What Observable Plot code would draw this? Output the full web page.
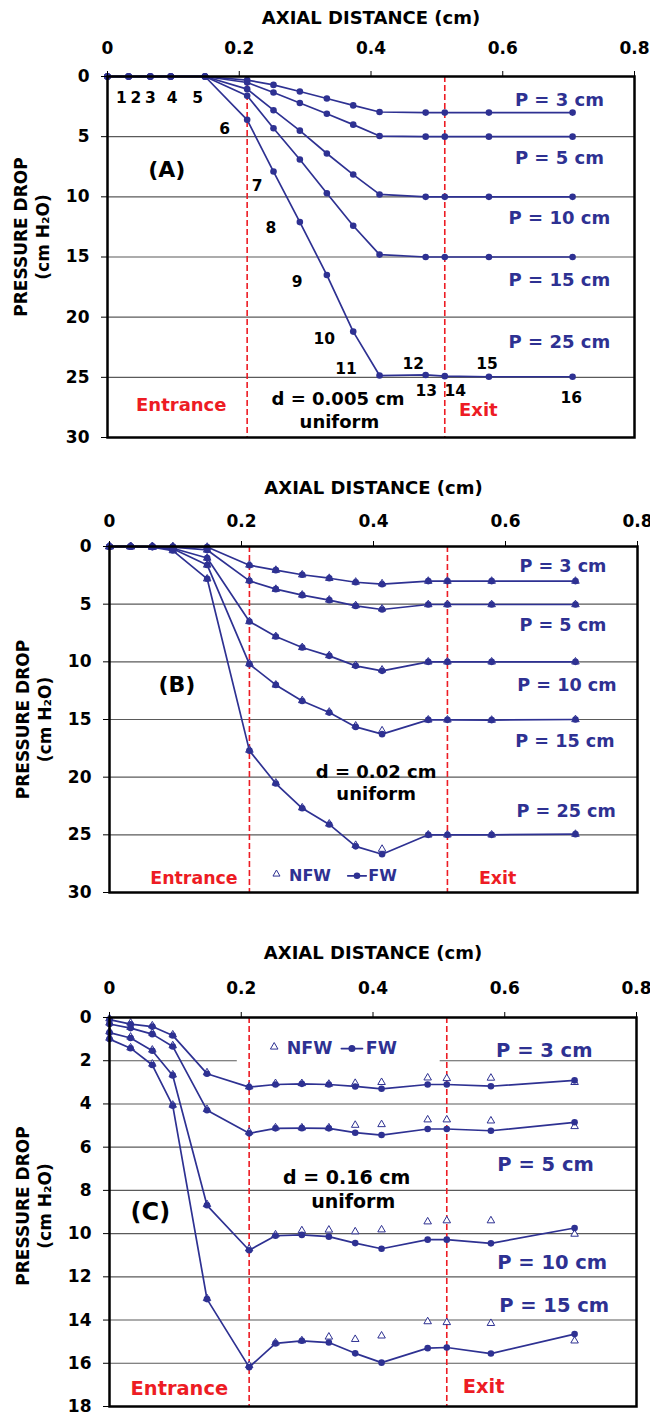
<!DOCTYPE html>
<html>
<head>
<meta charset="utf-8">
<script src="https://cdn.jsdelivr.net/npm/d3@7"></script>
<script src="https://cdn.jsdelivr.net/npm/@observablehq/plot@0.6"></script>
<style>
html,body{margin:0;padding:0;background:#fff;}
#chart{width:650px;}
#chart svg{display:block;}
</style>
</head>
<body>
<div id="chart"></div>
<script>
// ---------- shared ----------
const axialDistance = [0, 0.032, 0.065, 0.096, 0.148, 0.212, 0.252, 0.292, 0.333, 0.373, 0.413, 0.483, 0.512, 0.579, 0.706];
const xTicks = [0, 0.2, 0.4, 0.6, 0.8];
const entranceExit = [0.212, 0.512];

// ---------- panel A : d = 0.005 cm ----------
const seriesA = ["P = 3 cm", "P = 5 cm", "P = 10 cm", "P = 15 cm", "P = 25 cm"];
const fwA3  = [0, 0, 0, 0, 0, 0.3, 0.7, 1.25, 1.83, 2.4, 2.95, 3.0, 3.0, 3.0, 3.0];
const fwA5  = [0, 0, 0, 0, 0, 0.5, 1.33, 2.2, 3.1, 4.0, 4.95, 5.0, 5.0, 5.0, 5.0];
const fwA10 = [0, 0, 0, 0, 0, 1.05, 2.8, 4.5, 6.4, 8.15, 9.8, 10.0, 10.0, 10.0, 10.0];
const fwA15 = [0, 0, 0, 0, 0, 1.6, 4.3, 6.9, 9.7, 12.4, 14.8, 15.0, 15.0, 15.0, 15.0];
const fwA25 = [0, 0, 0, 0, 0, 3.6, 7.9, 12.1, 16.5, 21.2, 24.85, 24.8, 24.9, 24.95, 24.95];
const yTicksA = [0, 5, 10, 15, 20, 25, 30];
const pointNumbers = ["1","2","3","4","5","6","7","8","9","10","11","12","13","14","15","16"];
const pointNumberX = [0.021, 0.043, 0.065, 0.098, 0.137, 0.178, 0.227, 0.248, 0.288, 0.329, 0.362, 0.464, 0.484, 0.528, 0.576, 0.704];
const pointNumberY = [1.75, 1.75, 1.75, 1.75, 1.75, 4.4, 9.1, 12.6, 17.1, 21.8, 24.3, 23.9, 26.1, 26.1, 23.9, 26.7];

// ---------- panel B : d = 0.02 cm ----------
const seriesB = ["P = 3 cm", "P = 5 cm", "P = 10 cm", "P = 15 cm", "P = 25 cm"];
const fwB3  = [0, 0, 0, 0, 0.05, 1.62, 2.05, 2.45, 2.75, 3.1, 3.27, 3.0, 3.0, 3.0, 3.0];
const fwB5  = [0, 0, 0, 0.05, 0.3, 2.98, 3.7, 4.22, 4.65, 5.15, 5.46, 5.03, 5.03, 5.03, 5.03];
const fwB10 = [0, 0, 0, 0.15, 1.0, 6.5, 7.8, 8.76, 9.48, 10.35, 10.78, 10.0, 10.0, 10.0, 10.0];
const fwB15 = [0, 0, 0.05, 0.2, 1.6, 10.2, 12.0, 13.4, 14.4, 15.64, 16.27, 15.03, 15.03, 15.05, 15.0];
const fwB25 = [0, 0, 0.05, 0.35, 2.8, 17.7, 20.55, 22.7, 24.1, 26.0, 26.68, 25.0, 25.0, 25.0, 24.94];
const nfwB3  = [0, 0, 0, 0, 0.05, 1.6, 2.05, 2.45, 2.75, 3.08, 3.22, 3.0, 3.0, 3.0, 3.0];
const nfwB5  = [0, 0, 0, 0.05, 0.3, 2.95, 3.7, 4.2, 4.63, 5.12, 5.4, 5.03, 5.03, 5.03, 5.03];
const nfwB10 = [0, 0, 0, 0.15, 1.0, 6.5, 7.8, 8.75, 9.45, 10.3, 10.7, 10.0, 10.0, 10.0, 10.0];
const nfwB15 = [0, 0, 0.05, 0.2, 1.6, 10.15, 12.0, 13.35, 14.35, 15.55, 15.97, 15.03, 15.03, 15.05, 15.0];
const nfwB25 = [0, 0, 0.05, 0.35, 2.8, 17.65, 20.5, 22.65, 24.05, 25.9, 26.24, 25.0, 25.0, 25.0, 24.94];
const yTicksB = [0, 5, 10, 15, 20, 25, 30];

// ---------- panel C : d = 0.16 cm ----------
const seriesC = ["P = 3 cm", "P = 5 cm", "P = 10 cm", "P = 15 cm"];
const fwC3  = [0.1, 0.31, 0.42, 0.83, 2.6, 3.22, 3.1, 3.07, 3.1, 3.19, 3.3, 3.1, 3.1, 3.18, 2.91];
const fwC5  = [0.3, 0.49, 0.77, 1.34, 4.29, 5.36, 5.13, 5.12, 5.13, 5.33, 5.44, 5.16, 5.16, 5.24, 4.85];
const fwC10 = [0.7, 0.95, 1.54, 2.68, 8.69, 10.77, 10.1, 10.06, 10.14, 10.44, 10.7, 10.28, 10.28, 10.45, 9.74];
const fwC15 = [1.0, 1.42, 2.2, 4.08, 13.03, 16.18, 15.08, 14.96, 15.04, 15.54, 15.97, 15.3, 15.27, 15.55, 14.65];
const nfwC3  = [0.05, 0.25, 0.38, 0.8, 2.55, 3.2, 3.05, 3.05, 3.08, 3.04, 3.0, 2.79, 2.82, 2.8, 3.0];
const nfwC5  = [0.25, 0.45, 0.72, 1.3, 4.25, 5.3, 5.1, 5.1, 5.1, 4.98, 4.95, 4.73, 4.73, 4.78, 5.04];
const nfwC10 = [0.65, 0.9, 1.5, 2.65, 8.65, 10.7, 10.05, 9.86, 9.83, 9.91, 9.82, 9.45, 9.4, 9.4, 10.02];
const nfwC15 = [0.95, 1.4, 2.15, 4.05, 13.0, 16.1, 15.05, 14.95, 14.78, 14.89, 14.73, 14.07, 14.11, 14.15, 14.96];
const yTicksC = [0, 2, 4, 6, 8, 10, 12, 14, 16, 18];

// ---------- styling ----------
const blue = "#2e3192";
const red = "#ed1c24";
const FONT = "DejaVu Sans";

function tidy(names, arrays) {
  return arrays.flatMap((arr, i) => arr.map((v, j) => ({x: axialDistance[j], y: v, s: names[i]})));
}
function labels(list, opts) {
  return Plot.text(list, {x: "x", y: "y", text: "t", fontWeight: "bold", ...opts});
}

function panel(o) {
  const fw = tidy(o.names, o.fw);
  const nfw = o.nfw ? tidy(o.names, o.nfw) : [];
  const marks = [
    Plot.ruleY(o.yTicks.slice(1, -1), {stroke: "#5a5a5a", strokeWidth: 1.1}),
    ...(o.under || []),
    Plot.ruleX(entranceExit, {stroke: red, strokeWidth: 1.6, strokeDasharray: "6,3"}),
    Plot.dot(nfw, {x: "x", y: "y", symbol: "triangle", r: 2.8, stroke: blue, strokeWidth: 1, fill: "white"}),
    Plot.line(fw, {x: "x", y: "y", z: "s", stroke: blue, strokeWidth: 1.7}),
    Plot.dot(fw, {x: "x", y: "y", r: 3.3, fill: blue}),
    ...(o.over || []),
    Plot.frame({stroke: "black", strokeWidth: 2.5}),
    Plot.axisX({anchor: "top", ticks: xTicks, tickSize: 6, tickPadding: o.xPad, label: null, fontSize: 17,
      tickFormat: d => d === 0 ? "0" : d3.format(".1f")(d)}),
    Plot.axisY({anchor: "left", ticks: o.yTicks, tickSize: 6, tickPadding: 12, label: null, fontSize: 17}),
    Plot.text(["AXIAL DISTANCE (cm)"], {frameAnchor: "top", lineAnchor: "middle", textAnchor: "middle", dy: o.titleDy, fontSize: 18, fontWeight: "bold"}),
    Plot.text(["PRESSURE DROP\n(cm H\u2082O)"], {frameAnchor: "left", textAnchor: "middle", lineAnchor: "middle", dx: -77, dy: o.ylabDy, rotate: -90, fontSize: 17, lineHeight: 1.3, fontWeight: "bold"})
  ];
  return Plot.plot({
    width: 650, height: o.height,
    marginTop: 76, marginBottom: o.mb, marginLeft: o.ml, marginRight: o.mr,
    x: {domain: [0, 0.8]},
    y: {domain: [0, o.yMax], reverse: true},
    style: {fontFamily: FONT, fontSize: "17px", fontWeight: "bold", color: "black", background: "white", overflow: "visible"},
    marks
  });
}

// ---------- annotations (data coordinates) ----------
const pLabA = seriesA.map((t, i) => ({t, x: 0.686, y: [1.95, 6.8, 11.75, 16.9, 22.05][i]}));
const numA = pointNumbers.map((t, i) => ({t, x: pointNumberX[i], y: pointNumberY[i]}));
const chartA = panel({
  names: seriesA, fw: [fwA3, fwA5, fwA10, fwA15, fwA25],
  yMax: 30, yTicks: yTicksA, height: 470, mb: 33, ml: 107, mr: 16,
  xPad: 17, titleDy: -58, ylabDy: -20,
  over: [
    labels(pLabA, {fill: blue, fontSize: 18}),
    labels(numA, {fill: "black", fontSize: 15.5}),
    labels([{t: "(A)", x: 0.09, y: 7.8}], {fill: "black", fontSize: 22}),
    labels([{t: "d = 0.005 cm", x: 0.35, y: 26.8}, {t: "uniform", x: 0.352, y: 28.7}], {fill: "black", fontSize: 18}),
    labels([{t: "Entrance", x: 0.112, y: 27.3}, {t: "Exit", x: 0.563, y: 27.7}], {fill: red, fontSize: 18})
  ]
});

const pLabB = seriesB.map((t, i) => ({t, x: [0.687, 0.687, 0.693, 0.69, 0.692][i], y: [1.68, 6.88, 12.0, 16.9, 23.0][i]}));
const chartB = panel({
  names: seriesB, fw: [fwB3, fwB5, fwB10, fwB15, fwB25], nfw: [nfwB3, nfwB5, nfwB10, nfwB15, nfwB25],
  yMax: 30, yTicks: yTicksB, height: 471, mb: 49, ml: 109, mr: 13,
  xPad: 14, titleDy: -58, ylabDy: 0,
  over: [
    labels(pLabB, {fill: blue, fontSize: 17.6}),
    labels([{t: "(B)", x: 0.102, y: 12.0}], {fill: "black", fontSize: 22}),
    labels([{t: "d = 0.02 cm", x: 0.404, y: 19.6}, {t: "uniform", x: 0.404, y: 21.5}], {fill: "black", fontSize: 18}),
    labels([{t: "Entrance", x: 0.128, y: 28.8}, {t: "Exit", x: 0.588, y: 28.8}], {fill: red, fontSize: 17.4}),
    Plot.dot([{x: 0.253, y: 28.4}], {x: "x", y: "y", symbol: "triangle", r: 2.6, stroke: blue, strokeWidth: 1, fill: "white"}),
    labels([{t: "NFW", x: 0.272, y: 28.55}, {t: "FW", x: 0.392, y: 28.55}], {fill: blue, fontSize: 16, textAnchor: "start"}),
    Plot.line([{x: 0.361, y: 28.55}, {x: 0.389, y: 28.55}], {x: "x", y: "y", stroke: blue, strokeWidth: 1.7}),
    Plot.dot([{x: 0.375, y: 28.55}], {x: "x", y: "y", r: 3.3, fill: blue})
  ]
});

const pLabC = seriesC.map((t, i) => ({t, x: [0.66, 0.662, 0.672, 0.675][i], y: [1.56, 6.82, 11.33, 13.34][i]}));
const chartC = panel({
  names: seriesC, fw: [fwC3, fwC5, fwC10, fwC15], nfw: [nfwC3, nfwC5, nfwC10, nfwC15],
  yMax: 18, yTicks: yTicksC, height: 474, mb: 9, ml: 109, mr: 14,
  xPad: 18, titleDy: -64, ylabDy: -6,
  under: [
    Plot.rect([{x1: 0.194, x2: 0.502, y1: 0.95, y2: 2.35}], {x1: "x1", x2: "x2", y1: "y1", y2: "y2", fill: "white"})
  ],
  over: [
    labels(pLabC, {fill: blue, fontSize: 19.5}),
    labels([{t: "(C)", x: 0.062, y: 9.0}], {fill: "black", fontSize: 24}),
    labels([{t: "d = 0.16 cm", x: 0.36, y: 7.42}, {t: "uniform", x: 0.37, y: 8.55}], {fill: "black", fontSize: 19}),
    labels([{t: "Entrance", x: 0.106, y: 17.17}, {t: "Exit", x: 0.568, y: 17.1}], {fill: red, fontSize: 19.4}),
    Plot.dot([{x: 0.25, y: 1.36}], {x: "x", y: "y", symbol: "triangle", r: 2.8, stroke: blue, strokeWidth: 1, fill: "white"}),
    labels([{t: "NFW", x: 0.269, y: 1.44}, {t: "FW", x: 0.389, y: 1.44}], {fill: blue, fontSize: 17.4, textAnchor: "start"}),
    Plot.line([{x: 0.352, y: 1.44}, {x: 0.384, y: 1.44}], {x: "x", y: "y", stroke: blue, strokeWidth: 1.7}),
    Plot.dot([{x: 0.368, y: 1.44}], {x: "x", y: "y", r: 3.5, fill: blue})
  ]
});

const root = document.getElementById("chart");
root.append(chartA, chartB, chartC);
</script>
</body>
</html>
